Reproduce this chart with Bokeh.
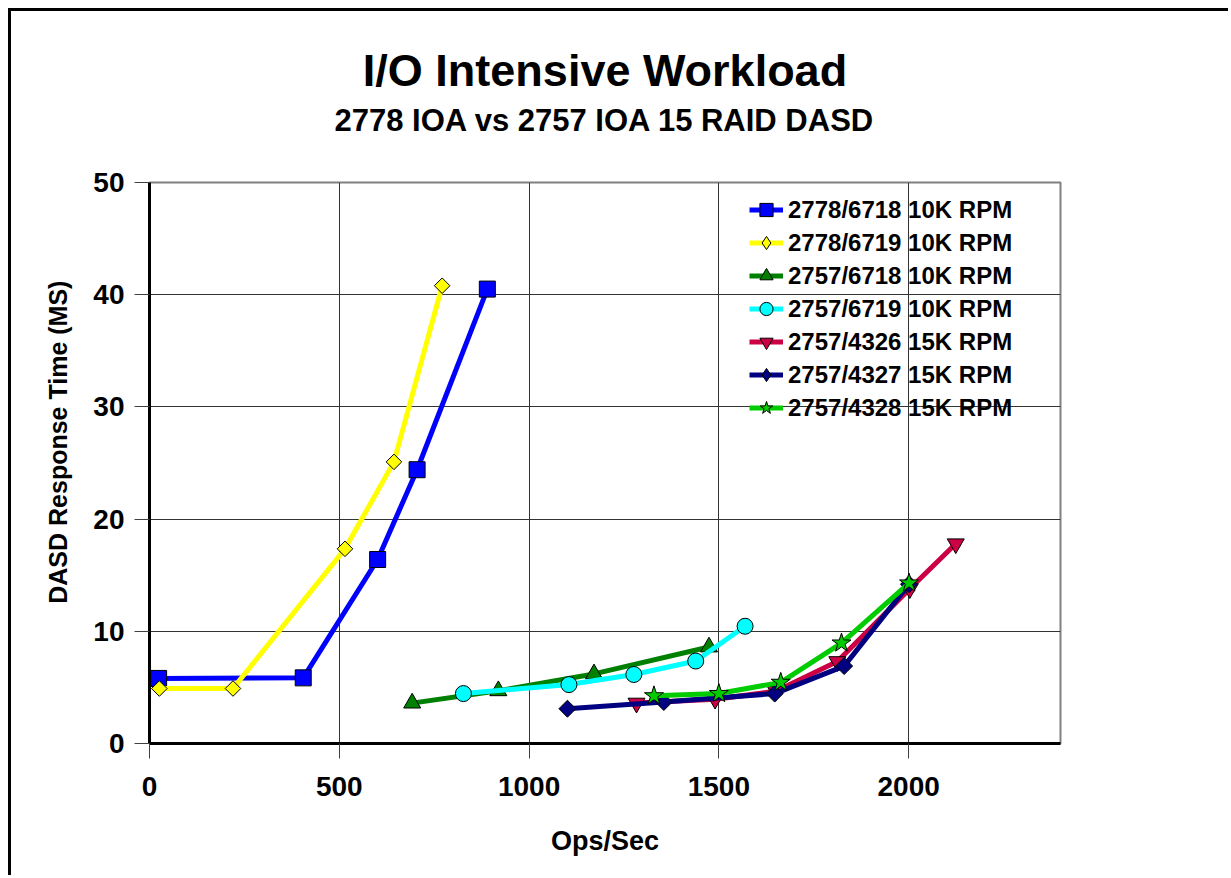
import math
from bokeh.plotting import figure
from bokeh.models import Legend, LegendItem, FixedTicker, Range1d, Title
from bokeh.embed import file_html
from bokeh.resources import INLINE

# ---- data ----
x_2778_6718 = [24, 405, 601, 705, 890]
y_2778_6718 = [5.8, 5.85, 16.4, 24.4, 40.5]
x_2778_6719 = [26, 220, 515, 644, 771]
y_2778_6719 = [4.9, 4.9, 17.35, 25.1, 40.8]
x_2757_6718 = [692, 919, 1171, 1474]
y_2757_6718 = [3.6, 4.7, 6.2, 8.6]
x_2757_6719 = [827, 1105, 1276, 1439, 1569]
y_2757_6719 = [4.45, 5.25, 6.15, 7.35, 10.45]
x_2757_4326 = [1283, 1490, 1650, 1812, 2003, 2124]
y_2757_4326 = [3.6, 3.95, 4.65, 7.3, 13.8, 17.8]
x_2757_4327 = [1101, 1355, 1647, 1830, 2001]
y_2757_4327 = [3.1, 3.7, 4.45, 6.9, 14.2]
x_2757_4328 = [1329, 1500, 1663, 1823, 2001]
y_2757_4328 = [4.25, 4.45, 5.45, 8.95, 14.3]

series_labels = ["2778/6718 10K RPM", "2778/6719 10K RPM", "2757/6718 10K RPM",
                 "2757/6719 10K RPM", "2757/4326 15K RPM", "2757/4327 15K RPM",
                 "2757/4328 15K RPM"]
x_ticks = [0, 500, 1000, 1500, 2000]
y_ticks = [0, 10, 20, 30, 40, 50]

title_text = "I/O Intensive Workload"
subtitle_text = "2778 IOA vs 2757 IOA 15 RAID DASD"
x_title = "Ops/Sec"
y_title = "DASD Response Time (MS)"

FONT = "Liberation Sans"


def set_standoff(obj, val):
    try:
        obj.standoff = val
    except AttributeError:
        pass


p = figure(title=None, frame_width=911, frame_height=561,
           min_border_left=141, min_border_right=171,
           min_border_top=174, min_border_bottom=135,
           x_range=Range1d(0, 2400), y_range=Range1d(0, 50),
           output_backend="svg", toolbar_location=None)
p.styles = {"margin-left": "8px", "margin-top": "8px",
            "box-shadow": "inset 3px 3px 0 0 black",
            "clip-path": "inset(0px 3px 3px 0px)"}
p.background_fill_color = "white"
p.border_fill_alpha = 0
p.outline_line_color = "#808080"
p.outline_line_width = 2

for ax, tk in ((p.xaxis, x_ticks), (p.yaxis, y_ticks)):
    ax.ticker = FixedTicker(ticks=tk)
    ax.axis_line_width = 3
    ax.axis_line_color = "black"
    ax.major_tick_out = 15
    ax.major_tick_in = 0
    ax.major_tick_line_color = "#404040"
    ax.minor_tick_line_color = None
    ax.major_label_text_font = FONT
    ax.major_label_text_font_style = "bold"
    ax.major_label_text_font_size = "28px"
    ax.major_label_text_color = "black"
    ax.axis_label_text_font = FONT
    ax.axis_label_text_font_style = "bold"
    ax.axis_label_text_color = "black"
p.xaxis.axis_label_text_font_size = "27px"
p.yaxis.axis_label_text_font_size = "25px"
p.xaxis.major_label_standoff = 18
p.yaxis.major_label_standoff = 10
p.xaxis.axis_label = x_title
p.xaxis.axis_label_standoff = 27
# leading no-break spaces nudge the centred, rotated title up along the axis
p.yaxis.axis_label = "\u00a0" * 6 + y_title
p.yaxis.axis_label_standoff = 18

p.xgrid.grid_line_color = "#333333"
p.ygrid.grid_line_color = "#333333"
p.xgrid.grid_line_width = 1
p.ygrid.grid_line_width = 1

series = [
    (x_2778_6718, y_2778_6718, "#0000FF", "square", 16, 0, None),
    (x_2778_6719, y_2778_6719, "#FFFF00", "square", 11, math.pi / 4, "diamond"),
    (x_2757_6718, y_2757_6718, "#008000", "triangle", 17, 0, None),
    (x_2757_6719, y_2757_6719, "#00FFFF", "circle", 16, 0, None),
    (x_2757_4326, y_2757_4326, "#CC0044", "inverted_triangle", 17, 0, None),
    (x_2757_4327, y_2757_4327, "#000080", "square", 12, math.pi / 4, "diamond"),
    (x_2757_4328, y_2757_4328, "#00CC00", "star", 20, 0, None),
]

items = []
for (xs, ys, col, mk, sz, ang, leg_mk), lab in zip(series, series_labels):
    lr = p.line(xs, ys, line_color=col, line_width=5)
    sr = p.scatter(xs, ys, marker=mk, size=sz, angle=ang,
                   fill_color=col, line_color="black", line_width=1)
    if leg_mk is None:
        items.append(LegendItem(label=lab, renderers=[lr, sr]))
    else:
        # legend-only marker of zero size (invisible in the plot area)
        lg = p.scatter(xs, ys, marker=leg_mk, size=0,
                       fill_color=col, line_color="black", line_width=1)
        items.append(LegendItem(label=lab, renderers=[lr, lg]))

legend = Legend(items=items, location=(600, 319))
legend.border_line_alpha = 0
legend.background_fill_alpha = 0
legend.label_text_font = FONT
legend.label_text_font_style = "bold"
legend.label_text_font_size = "24px"
legend.label_text_color = "black"
legend.glyph_width = 34
legend.glyph_height = 33
legend.label_height = 33
legend.label_standoff = 5
legend.spacing = 0
legend.padding = 0
legend.margin = 0
p.add_layout(legend)

# titles: first added sits closest to the frame
p.add_layout(Title(text=" ", text_font_size="25px"), "above")
sub = Title(text=subtitle_text, align="center", text_font=FONT,
            text_font_style="bold", text_font_size="31px", text_color="black")
p.add_layout(sub, "above")
main = Title(text=title_text, align="center", text_font=FONT,
             text_font_style="bold", text_font_size="45px", text_color="black")
set_standoff(main, 0)
p.add_layout(main, "above")

open("out.html", "w").write(file_html(p, INLINE))
